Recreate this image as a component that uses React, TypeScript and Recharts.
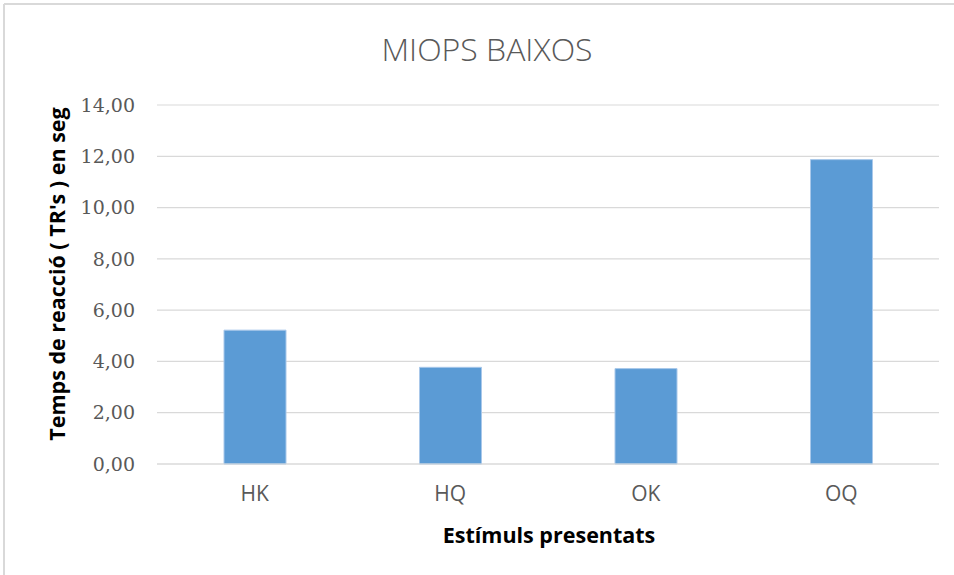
import React from "react";
import { BarChart, Bar, XAxis, YAxis, CartesianGrid } from "recharts";

const categories = ["HK", "HQ", "OK", "OQ"];
const values = [5.22, 3.77, 3.72, 11.87];
const yTicks = [0, 2, 4, 6, 8, 10, 12, 14];
const chartTitle = "MIOPS BAIXOS";
const xTitle = "Estímuls presentats";
const yTitle = "Temps de reacció ( TR's ) en seg";

const data = categories.map((c, i) => ({ name: c, value: values[i] }));

const fmt = (v: number) => v.toFixed(2).replace(".", ",");

export default function App() {
  return (
    <div style={{ position: "absolute", left: 0, top: 0, width: 954, height: 575, background: "#fff" }}>
      <BarChart
        width={954}
        height={575}
        data={data}
        margin={{ top: 105, right: 15, bottom: 0, left: 0 }}
      >
        <CartesianGrid vertical={false} stroke="#d9d9d9" strokeWidth={1.2} />
        <XAxis
          dataKey="name"
          height={111}
          axisLine={{ stroke: "#d9d9d9", strokeWidth: 1.2 }}
          tickLine={false}
          tickSize={0}
          tickMargin={22}
          tick={{ fill: "#595959", fontSize: 21, fontFamily: "Open Sans" }}
        />
        <YAxis
          width={157}
          domain={[0, 14]}
          ticks={yTicks}
          tickFormatter={fmt}
          axisLine={false}
          tickLine={false}
          tickSize={0}
          tickMargin={22}
          tick={{ fill: "#595959", fontSize: 19, fontFamily: "DejaVu Serif" }}
        />
        <Bar
          dataKey="value"
          fill="#5b9bd5"
          stroke="#a9c8ea"
          strokeWidth={1}
          barSize={62}
          isAnimationActive={false}
        />
      </BarChart>
      <svg
        width={954}
        height={575}
        style={{ position: "absolute", left: 0, top: 0, pointerEvents: "none" }}
      >
        <line x1={4} y1={4} x2={954} y2={4} stroke="#d9d9d9" strokeWidth={2} />
        <line x1={4} y1={4} x2={4} y2={575} stroke="#d9d9d9" strokeWidth={2} />
        <text
          x={487}
          y={61}
          textAnchor="middle"
          fill="#595959"
          fontSize={32}
          fontFamily="Open Sans"
          fontWeight={300}
        >
          {chartTitle}
        </text>
        <text
          x={549}
          y={543}
          textAnchor="middle"
          fill="#000"
          fontSize={21.5}
          fontWeight={700}
          fontFamily="Open Sans"
        >
          {xTitle}
        </text>
        <text
          x={65}
          y={274}
          transform="rotate(-90 65 274)"
          textAnchor="middle"
          fill="#000"
          fontSize={21.5}
          fontWeight={700}
          fontFamily="Open Sans"
        >
          {yTitle}
        </text>
      </svg>
    </div>
  );
}
